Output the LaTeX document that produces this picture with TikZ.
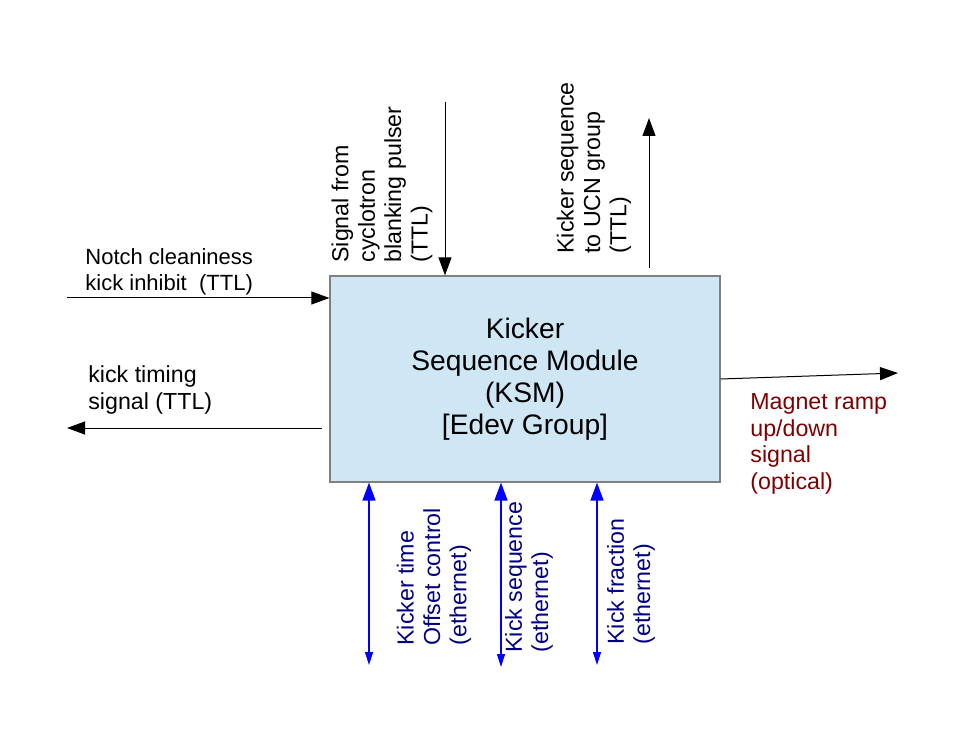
\documentclass[tikz,border=0pt]{standalone}
\usepackage{fontspec}
\setmainfont{Liberation Sans}
\usetikzlibrary{arrows.meta}
\definecolor{ksmfill}{RGB}{207,231,245}
\definecolor{ethblue}{RGB}{0,0,255}
\definecolor{ethtext}{RGB}{0,0,128}
\definecolor{optred}{RGB}{128,0,0}

\begin{document}
\begin{tikzpicture}[x=0.5pt, y=-0.5pt,
        sig/.style={-{Triangle[width=6.5pt,length=9pt]}, line width=0.5pt},
        eth/.style={{Triangle[width=4pt,length=6.5pt]}-{Triangle[width=6.5pt,length=9pt]}, ethblue, line width=0.7pt},
        lbl/.style={font=\fontsize{11.6}{13.2}\selectfont, align=left, inner sep=0pt},
        vlbl/.style={lbl, rotate=90, anchor=west}]
    \useasboundingbox (0,0) rectangle (976,738);

    \node[draw=gray, fill=ksmfill, line width=0.6pt, minimum width=195pt, minimum height=103pt,
          align=center, font=\fontsize{14.1}{16}\selectfont] (ksm) at (525,379)
          {Kicker\\Sequence Module\\(KSM)\\{[Edev Group]}};

    \coordinate (notchin) at (67,298);
    \coordinate (timestart) at (322,428);
    \coordinate (timeout) at (67,428);
    \coordinate (cyc) at (445,102);
    \coordinate (ucnstart) at (649,268);
    \coordinate (ucn) at (649,118);
    \coordinate (magnet) at (898,373);
    \coordinate (eth1) at (369,665);
    \coordinate (eth2) at (501,667);
    \coordinate (eth3) at (597,665);

    \draw[sig] (notchin) -- (ksm.west |- notchin);
    \draw[sig] (timestart) -- (timeout);
    \draw[sig] (cyc) -- (cyc |- ksm.north);
    \draw[sig] (ucnstart) -- (ucn);
    \draw[sig] (ksm.east) -- (magnet);
    \draw[eth] (eth1) -- (eth1 |- ksm.south);
    \draw[eth] (eth2) -- (eth2 |- ksm.south);
    \draw[eth] (eth3) -- (eth3 |- ksm.south);

    \node[lbl, anchor=west, font=\fontsize{11}{12.8}\selectfont] (notch) at (85,272) {Notch cleaniness\\kick inhibit\ \ (TTL)};
    \node[lbl, anchor=west] (timing) at (88,390) {kick timing\\signal (TTL)};
    \node[vlbl] (cyclbl) at (382,263) {Signal from\\cyclotron\\blanking pulser\\(TTL)};
    \node[vlbl] (ucnlbl) at (594,254) {Kicker sequence\\to UCN group\\(TTL)};
    \node[lbl, anchor=west, text=optred] (magnetlbl) at (750,444) {Magnet ramp\\up/down\\signal\\(optical)};
    \node[vlbl, text=ethtext] (eth1lbl) at (434,646) {Kicker time\\Offset control\\(ethernet)};
    \node[vlbl, text=ethtext] (eth2lbl) at (529,653) {Kick sequence\\(ethernet)};
    \node[vlbl, text=ethtext] (eth3lbl) at (631,645) {Kick fraction\\(ethernet)};
\end{tikzpicture}
\end{document}
